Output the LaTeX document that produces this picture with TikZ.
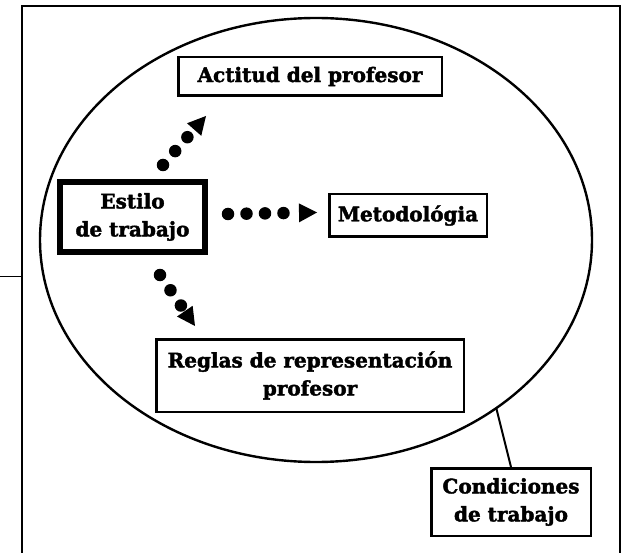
\documentclass[tikz,border=0pt]{standalone}
\usepackage{fontspec}
\setmainfont{DejaVu Serif}
\newfontfamily\heavyfont[FakeBold=2]{DejaVu Serif Bold}
\usetikzlibrary{shapes.geometric,arrows.meta}

\tikzstyle{concept box}=[draw,line width=2.5pt,inner sep=0pt,align=center,
    font=\heavyfont\fontsize{20}{28}\selectfont]
\tikzstyle{main box}=[concept box,line width=6pt]
\tikzstyle{field}=[draw,ellipse,line width=2.4pt,inner sep=0pt,outer sep=0pt,
    minimum width=552pt,minimum height=444pt]
\tikzstyle{dot flow}=[line width=12.5pt,line cap=round,dash pattern=on 0pt off 18.5pt,
    -{Triangle[length=18pt,width=19pt,line width=0pt]}]
\newcommand{\concept}[5][]{
    \node[concept box,minimum width=#4,#1] at (#2) (#3) {#5};
}

\begin{document}
\begin{tikzpicture}[x=1pt,y=-1pt]
    \useasboundingbox (0,0) rectangle (626,553);
    % frame, open at the bottom
    \draw[line width=2.8pt] (22,556) -- (22,6) -- (620,6) -- (620,556);
    \draw[line width=1pt] (0,276) -- (22,276);

    \node[field] at (316,240) (field) {};

    \concept[minimum height=38.5pt]{310,76.5}{actitud}{263.5pt}{Actitud del profesor}
    \concept[main box,minimum height=70pt]{132.5,217}{estilo}{145pt}{Estilo\\de trabajo}
    \concept[minimum height=42.5pt]{408,215.5}{metodo}{157.5pt}{Metodológia}
    \concept[minimum height=72.5pt]{310,375.5}{reglas}{307.5pt}{Reglas de representación\\profesor}
    \concept[minimum height=67.5pt]{511,502}{condiciones}{159.5pt}{Condiciones\\de trabajo}

    \draw[dot flow] ([shift={(30.5,-14)}]estilo.north) -- ([shift={(29,19)}]actitud.south west);
    \draw[dot flow] ([shift={(20,-3)}]estilo.east) -- ([shift={(-11,-3)}]metodo.west);
    \draw[dot flow] ([shift={(27.5,20)}]estilo.south) -- ([shift={(40,-12)}]reglas.north west);

    \draw[line width=2pt] (condiciones.north) -- (field.-43);
\end{tikzpicture}
\end{document}
